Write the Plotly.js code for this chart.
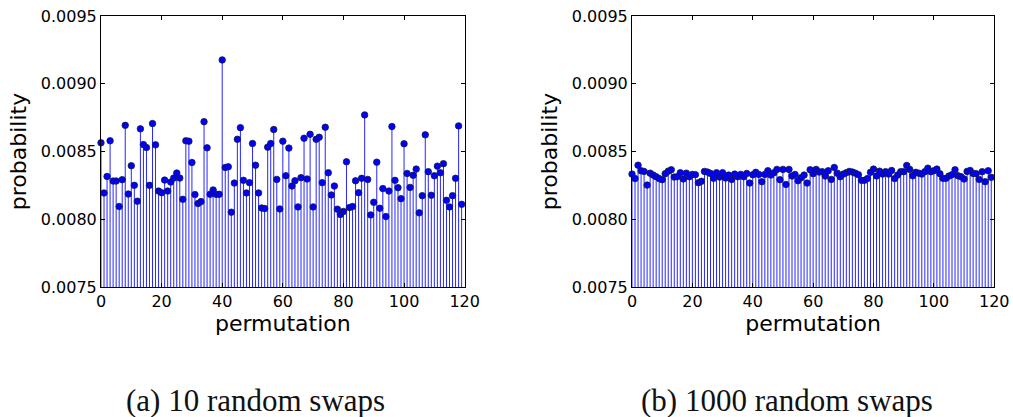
<!DOCTYPE html>
<html>
<head>
<meta charset="utf-8">
<script src="https://cdn.plot.ly/plotly-3.0.1.min.js"></script>
<style>html,body{margin:0;padding:0;background:#fff;}#chart{width:1013px;height:417px;}</style>
</head>
<body>
<div id="chart"></div>
<script>
const permutations = Array.from({length: 120}, (_, i) => i);

const swaps10 = [
0.008564,0.008194,0.008316,0.008579,0.008282,0.008282,0.008094,0.008292,0.008693,0.008186,
0.008395,0.008250,0.008133,0.008667,0.008551,0.008529,0.008250,0.008706,0.008549,0.008208,
0.008196,0.008289,0.008208,0.008274,0.008304,0.008341,0.008304,0.008147,0.008579,0.008576,
0.008419,0.008182,0.008116,0.008130,0.008720,0.008527,0.008184,0.008216,0.008184,0.008184,
0.009176,0.008382,0.008387,0.008052,0.008267,0.008590,0.008676,0.008287,0.008194,0.008270,
0.008559,0.008399,0.008194,0.008083,0.008079,0.008532,0.008559,0.008662,0.008294,0.008076,
0.008576,0.008321,0.008525,0.008245,0.008284,0.008091,0.008307,0.008598,0.008297,0.008627,
0.008091,0.008590,0.008605,0.008270,0.008679,0.008343,0.008179,0.008245,0.008074,0.008035,
0.008057,0.008424,0.008086,0.008094,0.008284,0.008196,0.008302,0.008770,0.008294,0.008032,
0.008125,0.008421,0.008081,0.008226,0.008020,0.008208,0.008684,0.008287,0.008233,0.008152,
0.008557,0.008338,0.008235,0.008324,0.008370,0.008047,0.008174,0.008623,0.008351,0.008177,
0.008321,0.008392,0.008343,0.008410,0.008140,0.008091,0.008174,0.008302,0.008689,0.008110
];

const swaps1000 = [
0.008333,0.008300,0.008399,0.008358,0.008353,0.008252,0.008340,0.008326,0.008314,0.008300,
0.008292,0.008336,0.008355,0.008365,0.008311,0.008314,0.008343,0.008297,0.008340,0.008314,
0.008331,0.008329,0.008270,0.008280,0.008353,0.008348,0.008338,0.008302,0.008343,0.008311,
0.008343,0.008304,0.008326,0.008294,0.008333,0.008314,0.008331,0.008314,0.008338,0.008267,
0.008328,0.008346,0.008331,0.008277,0.008331,0.008358,0.008326,0.008343,0.008368,0.008292,
0.008368,0.008257,0.008368,0.008319,0.008331,0.008284,0.008307,0.008326,0.008267,0.008365,
0.008336,0.008368,0.008348,0.008351,0.008319,0.008358,0.008294,0.008382,0.008340,0.008314,
0.008333,0.008343,0.008353,0.008348,0.008340,0.008329,0.008287,0.008287,0.008300,0.008346,
0.008370,0.008319,0.008355,0.008333,0.008351,0.008333,0.008360,0.008300,0.008326,0.008351,
0.008351,0.008397,0.008368,0.008321,0.008346,0.008340,0.008333,0.008351,0.008377,0.008351,
0.008358,0.008370,0.008336,0.008302,0.008302,0.008319,0.008329,0.008365,0.008321,0.008314,
0.008297,0.008353,0.008360,0.008338,0.008336,0.008294,0.008351,0.008277,0.008358,0.008309
];

const xTicks = [0, 20, 40, 60, 80, 100, 120];
const yTicks = [0.0075, 0.0080, 0.0085, 0.0090, 0.0095];
const captions = ['(a) 10 random swaps', '(b) 1000 random swaps'];
const xTitle = 'permutation';
const yTitle = 'probability';
const baseline = 0;

function stemTraces(xs, ys, xa, ya) {
  const sx = [], sy = [];
  xs.forEach((x, i) => { sx.push(x, x, null); sy.push(baseline, ys[i], null); });
  return [
    {x: sx, y: sy, type: 'scatter', mode: 'lines', xaxis: xa, yaxis: ya,
     line: {color: 'rgba(0,0,255,0.85)', width: 1}, hoverinfo: 'skip', showlegend: false},
    {x: xs, y: ys, type: 'scatter', mode: 'markers', xaxis: xa, yaxis: ya,
     marker: {color: '#0000ff', size: 6.5, line: {color: '#1a1a40', width: 0.8}},
     cliponaxis: false, showlegend: false}
  ];
}

const data = [
  ...stemTraces(permutations, swaps10, 'x', 'y'),
  ...stemTraces(permutations, swaps1000, 'x2', 'y2')
];

const tickFont = {family: 'DejaVu Sans, sans-serif', size: 16, color: '#000'};
const titleFont = {family: 'DejaVu Sans, sans-serif', size: 22, color: '#000'};

function xAxis(domain, anchor) {
  return {domain: domain, anchor: anchor, range: [0, 120], tickvals: xTicks,
    ticktext: xTicks.map(String), ticks: 'inside', ticklen: 4, tickcolor: '#000',
    showline: true, linecolor: '#000', linewidth: 1, mirror: 'allticks',
    showgrid: false, zeroline: false, tickfont: tickFont,
    title: {text: xTitle, font: titleFont, standoff: 4}};
}
function yAxis(anchor) {
  return {domain: [0.3118, 0.9616], anchor: anchor, range: [0.0075, 0.0095],
    tickvals: yTicks, tickformat: '.4f', ticks: 'inside', ticklen: 4, tickcolor: '#000',
    showline: true, linecolor: '#000', linewidth: 1, mirror: 'allticks',
    showgrid: false, zeroline: false, tickfont: tickFont,
    title: {text: yTitle, font: titleFont, standoff: 8}};
}

const layout = {
  width: 1013, height: 417,
  margin: {l: 0, r: 0, t: 0, b: 0},
  paper_bgcolor: '#fff', plot_bgcolor: '#fff',
  showlegend: false,
  xaxis: xAxis([0.0997, 0.4587], 'y'),
  yaxis: yAxis('x'),
  xaxis2: xAxis([0.6239, 0.9815], 'y2'),
  yaxis2: yAxis('x2'),
  annotations: [
    {text: captions[0], xref: 'paper', yref: 'paper', x: 0.2527, y: 0.04, xanchor: 'center', yanchor: 'middle',
     showarrow: false, font: {family: 'Liberation Serif, serif', size: 31, color: '#111'}},
    {text: captions[1], xref: 'paper', yref: 'paper', x: 0.777, y: 0.04, xanchor: 'center', yanchor: 'middle',
     showarrow: false, font: {family: 'Liberation Serif, serif', size: 31, color: '#111'}}
  ]
};

Plotly.newPlot('chart', data, layout, {displayModeBar: false, staticPlot: true});
</script>
</body>
</html>
